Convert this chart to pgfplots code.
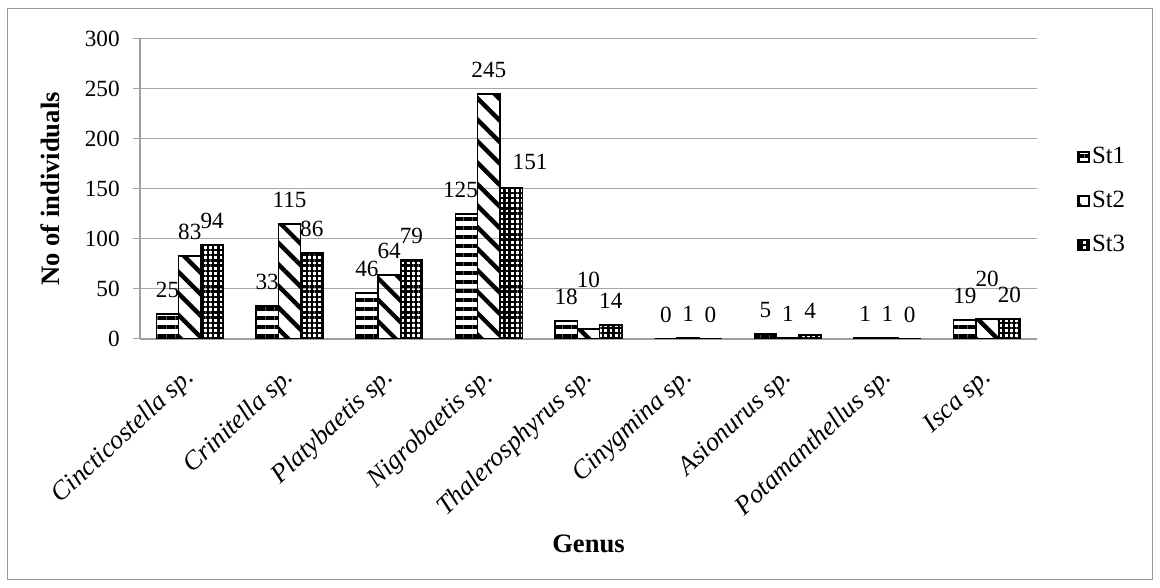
\documentclass[border=0pt]{standalone}
\usepackage{fontspec}
\setmainfont{Liberation Serif}
\usepackage{pgfplots}
\pgfplotsset{compat=1.18}
\usepackage{pgfplotstable}
\usetikzlibrary{patterns.meta}

\pgfplotstableread{
x y dx dy
0 25 0 8
1 33 0 8
2 46 0 8
3 125 -3 8
4 18 0 8
5 0 0 8
6 5 0 8
7 1 0 8
8 19 0 8
}\stA
\pgfplotstableread{
x y dx dy
0 83 0 8
1 115 0 8
2 64 0 8
3 245 0 8
4 10 0 20.5
5 1 0 8
6 1 0 8
7 1 0 8
8 20 0 16
}\stB
\pgfplotstableread{
x y dx dy
0 94 0 8
1 86 0 8
2 79 0 8
3 151 9.5 9
4 14 0 8
5 0 0 8
6 4 0 8
7 0 0 8
8 20 0 8
}\stC

\newcommand{\lblfont}{\fontsize{11.6}{13.9}\selectfont}
\newcommand{\xlblfont}{\fontsize{13.2}{15.8}\selectfont\itshape}
\newcommand{\legfont}{\fontsize{12.4}{14.8}\selectfont}
\newcommand{\ttlfont}{\fontsize{13.3}{16}\selectfont\bfseries}

\begin{document}
\begin{tikzpicture}
\useasboundingbox (0,0) rectangle (580pt,294pt);
\draw[color=gray!80, line width=0.5pt] (3.5pt,4pt) rectangle (576pt,289.5pt);
\begin{axis}[
  at={(70pt,124.5pt)}, anchor=south west,
  scale only axis, width=448.5pt, height=150pt,
  xmin=-0.5, xmax=8.5, ymin=0, ymax=300,
  ytick={0,50,...,300},
  xtick={0,...,8},
  xticklabels={Cincticostella sp., Crinitella sp., Platybaetis sp., Nigrobaetis sp., Thalerosphyrus sp., Cinygmina sp., Asionurus sp., Potamanthellus sp., Isca sp.},
  /pgf/number format/assume math mode=true,
  ybar=0pt, bar width=11.15pt,
  axis x line*=bottom, axis y line*=left,
  axis line style={draw=gray!75, line width=0.6pt},
  ymajorgrids, grid style={draw=gray!70, line width=0.5pt},
  tick align=outside, major tick length=3.5pt,
  xtick style={draw=none},
  ytick style={draw=gray!75, line width=0.5pt},
  yticklabel style={font=\lblfont, inner sep=0pt, xshift=-6.5pt},
  xticklabel style={font=\xlblfont, inner sep=0pt, anchor=east, xshift=0.5pt, yshift=-14pt, rotate=43},
  every axis y label/.style={at={(axis description cs:-0.1003,0.5)}, anchor=center, rotate=90, font=\ttlfont},
  every axis x label/.style={at={(axis description cs:0.5,-0.7133)}, anchor=base, font=\ttlfont},
  ylabel={No of individuals},
  xlabel={Genus},
  legend style={at={(axis description cs:1.0446,0.46)}, anchor=west, draw=none, fill=none,
    inner sep=0pt, font=\legfont, nodes={inner sep=1pt, text height=8.5pt, text depth=2pt},
    row sep=9.5pt},
  legend cell align=left,
  legend image code/.code={\draw[#1, line width=1.1pt] (0pt,-2.6pt) rectangle (5.2pt,2.6pt);},
  nodes near coords,
  point meta=explicit,
  visualization depends on={\thisrow{dx}\as\dx},
  visualization depends on={\thisrow{dy}\as\dy},
  every node near coord/.append style={anchor=south, inner sep=0pt, font=\lblfont, text=black, xshift=\dx pt, yshift=\dy pt},
  nodes near coords={\pgfmathprintnumber{\pgfplotspointmeta}},
]
\addplot[draw=black, line width=0.6pt, pattern={Lines[angle=0, distance=4.5pt, line width=2.1pt]}] table[x=x, y=y, meta=y] {\stA};
\addplot[draw=black, line width=0.6pt, pattern={Lines[angle=-45, distance=7.6pt, line width=2.2pt]}] table[x=x, y=y, meta=y] {\stB};
\addplot[draw=black, line width=0.6pt, pattern={Hatch[angle=0, distance=2.6pt, line width=1.2pt]}] table[x=x, y=y, meta=y] {\stC};
\legend{St1, St2, St3}
\end{axis}
\end{tikzpicture}
\end{document}
